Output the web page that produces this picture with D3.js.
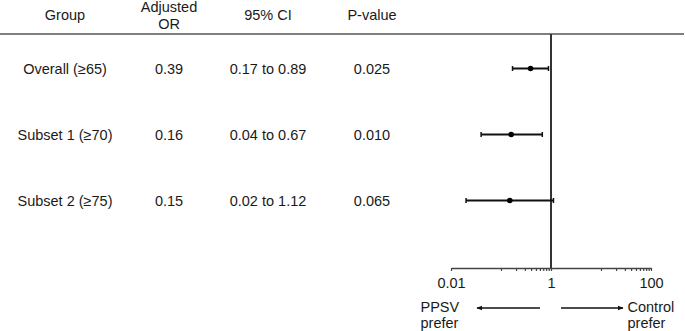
<!DOCTYPE html>
<html>
<head>
<meta charset="utf-8">
<script src="https://cdn.jsdelivr.net/npm/d3@7"></script>
<style>
  body { margin: 0; background: #fff; }
  svg text { font-family: "Liberation Sans", Arial, sans-serif; font-size: 14.5px; fill: #1a1a1a; }
</style>
</head>
<body>
<div id="chart"></div>
<script>
// table data
const groups = ["Overall (≥65)", "Subset 1 (≥70)", "Subset 2 (≥75)"];
const adjustedOR = [0.39, 0.16, 0.15];
const ciLow = [0.17, 0.04, 0.02];
const ciHigh = [0.89, 0.67, 1.12];
const pValues = ["0.025", "0.010", "0.065"];

// axis ticks
const majorTicks = [0.01, 1, 100];
const minorTicks = [0.1, 0.2, 0.3, 0.4, 0.5, 0.6, 0.7, 0.8, 0.9, 10, 20, 30, 40, 50, 60, 70, 80, 90];

const width = 685, height = 331;

const svg = d3.select("#chart").append("svg")
    .attr("width", width)
    .attr("height", height);

const x = d3.scaleLog().domain([0.01, 100]).range([451, 651]);
const y = d3.scalePoint().domain(groups).range([68.5, 200.5]);
const axisY = 268;

// column centres for the table
const cols = { group: 65, or: 169, ci: 268, p: 372 };

// header
const header = svg.append("g");
header.append("text").attr("x", cols.group).attr("y", 15).text("Group");
header.append("text").attr("x", cols.or).attr("y", 7).text("Adjusted");
header.append("text").attr("x", cols.or).attr("y", 24).text("OR");
header.append("text").attr("x", cols.ci).attr("y", 15).text("95% CI");
header.append("text").attr("x", cols.p).attr("y", 15).text("P-value");
header.selectAll("text")
    .attr("text-anchor", "middle")
    .attr("dominant-baseline", "central");

svg.append("line")
    .attr("x1", 0).attr("x2", 684)
    .attr("y1", 34).attr("y2", 34)
    .attr("stroke", "#555")
    .attr("stroke-width", 1.5);

// table rows
const rows = svg.append("g").selectAll("g")
    .data(groups)
    .join("g")
    .attr("transform", d => `translate(0,${y(d)})`);

rows.append("text").attr("x", cols.group).text(d => d);
rows.append("text").attr("x", cols.or).text((d, i) => adjustedOR[i].toFixed(2));
rows.append("text").attr("x", cols.ci).text((d, i) => `${ciLow[i].toFixed(2)} to ${ciHigh[i].toFixed(2)}`);
rows.append("text").attr("x", cols.p).text((d, i) => pValues[i]);
rows.selectAll("text")
    .attr("text-anchor", "middle")
    .attr("dominant-baseline", "central");

// reference line at OR = 1
svg.append("line")
    .attr("x1", x(1)).attr("x2", x(1))
    .attr("y1", 34).attr("y2", axisY)
    .attr("stroke", "#333")
    .attr("stroke-width", 2);

// x axis (log)
const axis = svg.append("g")
    .attr("transform", `translate(0,${axisY})`)
    .call(d3.axisBottom(x)
        .tickValues(majorTicks.concat(minorTicks))
        .tickSize(3)
        .tickSizeOuter(0)
        .tickPadding(7)
        .tickFormat(d => majorTicks.includes(d) ? String(d) : ""));
axis.select(".domain").attr("stroke", "#444").attr("stroke-width", 1.5);
axis.selectAll(".tick line").attr("stroke", "#444").attr("stroke-width", 1.2);
axis.selectAll(".tick text")
    .style("font-size", "14.5px")
    .attr("fill", "#1a1a1a");

// error bars
const bars = svg.append("g").selectAll("g")
    .data(groups)
    .join("g");

bars.append("line")
    .attr("x1", (d, i) => x(ciLow[i]))
    .attr("x2", (d, i) => x(ciHigh[i]))
    .attr("y1", d => y(d)).attr("y2", d => y(d))
    .attr("stroke", "#111").attr("stroke-width", 2);

bars.append("line")
    .attr("x1", (d, i) => x(ciLow[i])).attr("x2", (d, i) => x(ciLow[i]))
    .attr("y1", d => y(d) - 2.5).attr("y2", d => y(d) + 2.5)
    .attr("stroke", "#111").attr("stroke-width", 1.5);

bars.append("line")
    .attr("x1", (d, i) => x(ciHigh[i])).attr("x2", (d, i) => x(ciHigh[i]))
    .attr("y1", d => y(d) - 2.5).attr("y2", d => y(d) + 2.5)
    .attr("stroke", "#111").attr("stroke-width", 1.5);

bars.append("circle")
    .attr("cx", (d, i) => x(adjustedOR[i]))
    .attr("cy", d => y(d))
    .attr("r", 2.8)
    .attr("fill", "#000");

// direction arrows
const defs = svg.append("defs");
defs.append("marker")
    .attr("id", "arrow")
    .attr("viewBox", "0 0 10 10")
    .attr("refX", 9).attr("refY", 5)
    .attr("markerWidth", 6).attr("markerHeight", 6)
    .attr("markerUnits", "userSpaceOnUse")
    .attr("orient", "auto")
    .append("path")
    .attr("d", "M0,1 L10,5 L0,9 Z")
    .attr("fill", "#111");

svg.append("line")
    .attr("x1", 540).attr("x2", 477)
    .attr("y1", 308).attr("y2", 308)
    .attr("stroke", "#111").attr("stroke-width", 1.5)
    .attr("marker-end", "url(#arrow)");

svg.append("line")
    .attr("x1", 561).attr("x2", 623)
    .attr("y1", 308).attr("y2", 308)
    .attr("stroke", "#111").attr("stroke-width", 1.5)
    .attr("marker-end", "url(#arrow)");

const dirLabels = svg.append("g");
dirLabels.append("text").attr("x", 420.5).attr("y", 307).text("PPSV");
dirLabels.append("text").attr("x", 420.5).attr("y", 323).text("prefer");
dirLabels.append("text").attr("x", 627.5).attr("y", 307).text("Control");
dirLabels.append("text").attr("x", 627.5).attr("y", 323).text("prefer");
dirLabels.selectAll("text").attr("dominant-baseline", "central");
</script>
</body>
</html>
